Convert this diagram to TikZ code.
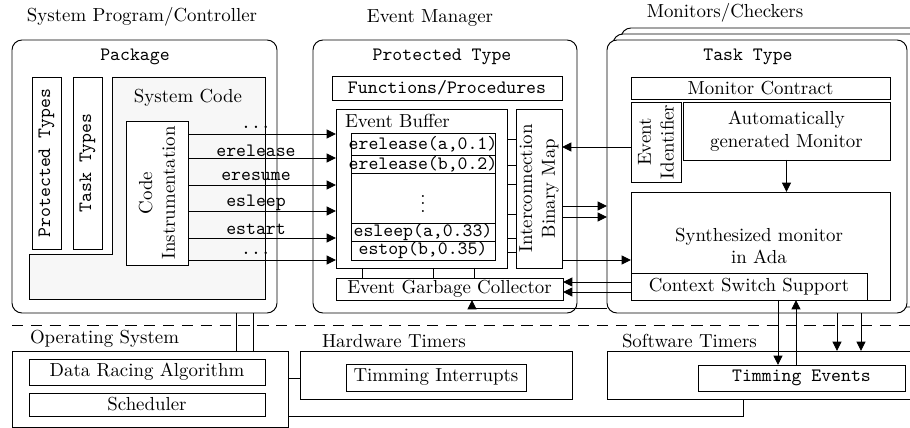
\documentclass[tikz,border=0pt]{standalone}
\usetikzlibrary{arrows.meta,fit,calc}
\newcommand\evdots{...}
% caption centred in an already drawn box
\newcommand\boxtext[3][]{\node[lbl,#1] (#2T) at (#2.center) {#3};}
\tikzset{
  ln/.style={line width=0.5pt},
  box/.style={draw, ln, inner sep=0pt, outer sep=0pt, fill=white},
  rbox/.style={box, rounded corners=5.3pt},
  arr/.style={ln, -{Triangle[length=5pt,width=4.8pt]}},
  tick/.style={ln},
  lbl/.style={inner sep=0pt, outer sep=0pt, align=center},
  ttl/.style={lbl, font=\ttfamily},
  vtext/.style={lbl, rotate=90}
}
\begin{document}
\begin{tikzpicture}[x=0.53pt, y=-0.53pt]
\useasboundingbox (0,0) rectangle (910,428);
\clip (0,0) rectangle (910,428);

% ---------------- titles ----------------
\node[lbl] (tSys) at (142,17) {System Program/Controller};
\node[lbl] (tEvm) at (430,18) {Event Manager};
\node[lbl] (tMon) at (725,13) {Monitors/Checkers};

% ---------------- package ----------------
\node[rbox, fit={(12,40)(277,313)}] (pkg) {};
\node[ttl] (pkgT) at (135,57) {Package};
\node[box, fit={(32,77)(61,249)}] (pt) {};
\boxtext[vtext, font=\ttfamily]{pt}{Protected Types}
\node[box, fit={(73,77)(102,249)}] (tt) {};
\boxtext[vtext, font=\ttfamily]{tt}{Task Types}
\path[draw, ln, fill=gray!6] (112,77) -- (265,77) -- (265,299) -- (29,299)
  -- (29,254) -- (112,254) -- cycle;
\node[lbl] (scT) at (188,98) {System Code};
\node[box, fit={(126,121)(188,265)}] (ci) {};
\boxtext[vtext]{ci}{Code\\Instrumentation}

% ---------------- protected type ----------------
\node[rbox, fit={(313,40)(577,313)}] (prot) {};
\node[ttl] (protT) at (442,57) {Protected Type};
\node[box, fit={(332,76)(562,100)}] (fp) {};
\boxtext[font=\ttfamily]{fp}{Functions/Procedures}
\node[box, fit={(336,109)(507,268)}] (eb) {};
\node[lbl, anchor=west] (ebT) at (345,121) {Event Buffer};
\node[box, fit={(351,133)(495,155)}] (e1) {};
\boxtext[font=\ttfamily]{e1}{erelease(a,0.1)}
\node[box, fit={(351,155)(495,173)}] (e2) {};
\boxtext[font=\ttfamily]{e2}{erelease(b,0.2)}
\node[box, fit={(351,173)(495,223)}] (e3) {};
\boxtext{e3}{$\vdots$}
\node[box, fit={(351,223)(495,241)}] (e4) {};
\boxtext[font=\ttfamily]{e4}{esleep(a,0.33)}
\node[box, fit={(351,241)(495,260)}] (e5) {};
\boxtext[font=\ttfamily]{e5}{estop(b,0.35)}
\node[box, fit={(516,109)(562,268)}] (bm) {};
\boxtext[vtext]{bm}{Interconnection\\Binary Map}
\node[box, fit={(336,278)(563,300)}] (gc) {};
\boxtext{gc}{Event Garbage Collector}
% buffer / map links
\foreach \yy in {139,165,184,214,238,252}
  \draw[tick] (eb.east |- 0,\yy) -- (bm.west |- 0,\yy);
% buffer / collector links
\foreach \xx in {362,433,474}
  \draw[tick] (eb.south -| \xx,0) -- (gc.north -| \xx,0);

% ---------------- task type (stacked) ----------------
\node[rbox, fit={(621,28)(940,301)}] (taskB) {};
\node[rbox, fit={(613,34)(930,307)}] (taskM) {};
\node[rbox, fit={(607,40)(907,313)}] (task) {};
\node[ttl] (taskT) at (748,57) {Task Type};
\node[box, fit={(631,77)(890,99)}] (mc) {};
\boxtext{mc}{Monitor Contract}
\node[box, fit={(631,102)(681,182)}] (ei) {};
\boxtext[vtext]{ei}{Event\\Identifier}
\node[box, fit={(683,102)(890,160)}] (am) {};
\boxtext{am}{Automatically\\generated Monitor}
\node[box, fit={(631,192)(890,300)}] (sm) {};
\node[lbl] (smT) at (759,246) {Synthesized monitor\\in Ada};
\node[box, fit={(631,273)(867,300)}] (css) {};
\boxtext{css}{Context Switch Support}

% ---------------- lower layer ----------------
\draw[ln, dashed, dash pattern=on 6pt off 4pt] (12,325) -- (910,325);
\node[lbl, anchor=west] (tOS) at (30,339) {Operating System};
\node[lbl, anchor=west] (tHW) at (322,341) {Hardware Timers};
\node[lbl, anchor=west] (tSW) at (622,341) {Software Timers};
\node[box, fit={(12,351)(288,427)}] (os) {};
\node[box, fit={(29,359)(265,385)}] (dra) {};
\boxtext{dra}{Data Racing Algorithm}
\node[box, fit={(29,393)(265,416)}] (sch) {};
\boxtext{sch}{Scheduler}
\node[box, fit={(300,351)(572,399)}] (hw) {};
\node[box, fit={(346,364)(526,391)}] (ti) {};
\boxtext{ti}{Timming Interrupts}
\node[box, fit={(607,351)(925,399)}] (sw) {};
\node[box, fit={(698,365)(905,391)}] (te) {};
\boxtext[font=\ttfamily]{te}{Timming Events}

% ---------------- connectors ----------------
% instrumentation events
\foreach \yy/\txt/\ly in {134/\evdots/127, 158/erelease/151, 185/eresume/176,
                         211/esleep/203, 238/estart/229, 260/\evdots/253}{
  \draw[arr] (ci.east |- 0,\yy) -- (eb.west |- 0,\yy);
  \node[ttl] at (256,\ly) {\txt};
}
% monitor side
\draw[arr] (am.south) -- (sm.north -| am.south);
\draw[arr] (ei.west |- 0,147) -- (bm.east |- 0,147);
\draw[arr] (bm.east |- 0,206) -- (task.west |- 0,206);
\draw[arr] (bm.east |- 0,217) -- (task.west |- 0,217);
\draw[arr] (bm.east |- 0,260) -- (sm.west |- 0,260);
\draw[arr] (css.west |- 0,282) -- (gc.east |- 0,282);
\draw[arr] (css.west |- 0,292) -- (gc.east |- 0,292);
\draw[arr] (task.west |- 0,308) -- (472,308) -- (gc.south -| 472,0);
% timers
\draw[arr] (css.south -| 778,0) -- (te.north -| 778,0);
\draw[arr] (te.north -| 796,0) -- (css.south -| 796,0);
\draw[arr] (task.south -| 837,0) -- (sw.north -| 837,0);
\draw[arr] (task.south -| 861,0) -- (sw.north -| 861,0);
% operating system links
\draw[ln] (pkg.south -| 236,0) -- (os.north -| 236,0);
\draw[ln] (pkg.south -| 253,0) -- (os.north -| 253,0);
\draw[ln] (os.east |- 0,378) -- (hw.west |- 0,378);
\draw[ln] (os.east |- 0,416) -- (743,416) -- (sw.south -| 743,0);
\end{tikzpicture}
\end{document}
